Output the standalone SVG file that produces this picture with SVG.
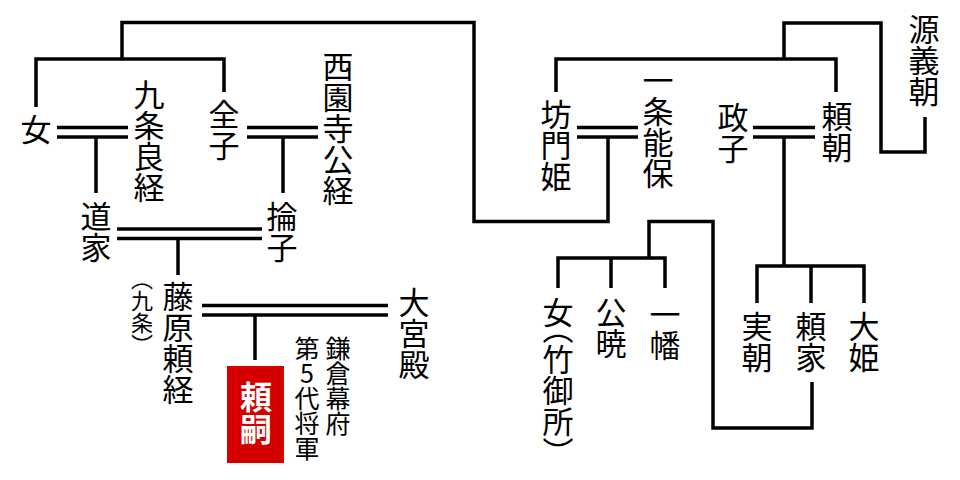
<svg xmlns="http://www.w3.org/2000/svg" width="960" height="480" viewBox="0 0 960 480">
<style>
.t{font-family:"Noto Sans CJK JP","Noto Sans CJK SC",sans-serif;font-size:31px;fill:#000;writing-mode:vertical-rl;text-orientation:upright;font-feature-settings:"vhal" 1;}
.s{font-size:25px;}
.p{font-size:22px;}
.b{font-weight:bold;fill:#fff;font-size:32px;}
.ln{fill:none;stroke:#000;stroke-width:3.5;stroke-linejoin:miter;stroke-linecap:butt;}
</style>
<rect width="960" height="480" fill="#fff"/>
<g id="connectors" class="ln">
  <polyline points="122,59 122,22.5 474,22.5 474,221.5 608,221.5 608,137"/>
  <polyline points="36,107 36,59 224,59 224,92"/>
  <line x1="57" y1="127.5" x2="128" y2="127.5"/><line x1="57" y1="137" x2="128" y2="137"/>
  <line x1="96" y1="137" x2="96" y2="193"/>
  <line x1="247" y1="127.5" x2="318" y2="127.5"/><line x1="247" y1="137" x2="318" y2="137"/>
  <line x1="283" y1="137" x2="283" y2="193"/>
  <line x1="117" y1="229" x2="262" y2="229"/><line x1="117" y1="238.5" x2="262" y2="238.5"/>
  <line x1="178" y1="238.5" x2="178" y2="275"/>
  <line x1="202" y1="305.5" x2="388" y2="305.5"/><line x1="202" y1="315" x2="388" y2="315"/>
  <line x1="255" y1="315" x2="255" y2="360"/>
  <line x1="577" y1="127.5" x2="638" y2="127.5"/><line x1="577" y1="137" x2="638" y2="137"/>
  <polyline points="556,92 556,59 836,59 836,92"/>
  <polyline points="784,59 784,23 881,23 881,152 925,152 925,117"/>
  <line x1="753" y1="127.5" x2="815" y2="127.5"/><line x1="753" y1="137" x2="815" y2="137"/>
  <line x1="784" y1="137" x2="784" y2="266"/>
  <polyline points="757,303 757,266 864,266 864,303"/>
  <line x1="811" y1="266" x2="811" y2="303"/>
  <polyline points="812,382 812,428 713,428 713,221.5 649,221.5 649,258"/>
  <polyline points="558,288 558,258 665,258 665,288"/>
  <line x1="611" y1="258" x2="611" y2="288"/>
</g>
<g id="onna1"><text class="t" x="36" y="114">女</text></g>
<g id="kujo-yoshitsune"><text class="t" x="149" y="79">九条良経</text></g>
<g id="zenshi"><text class="t" x="224" y="99">全子</text></g>
<g id="saionji-kintsune"><text class="t" x="338" y="51">西園寺公経</text></g>
<g id="michiie"><text class="t" x="96" y="201">道家</text></g>
<g id="rinshi"><text class="t" x="282" y="201">掄子</text></g>
<g id="fujiwara-yoritsune"><text class="t" x="178" y="281">藤原頼経</text><text class="t p" x="142" y="279">（九条）</text></g>
<g id="omiyadono"><text class="t" x="414" y="287">大宮殿</text></g>
<g id="yoritsugu"><rect x="227" y="366" width="57" height="97" fill="#d40000"/><text class="t b" x="256" y="381">頼嗣</text><text class="t s" x="338" y="336">鎌倉幕府</text><text class="t s" x="307" y="336">第5代将軍</text></g>
<g id="bomonhime"><text class="t" x="556" y="99">坊門姫</text></g>
<g id="ichijo-yoshiyasu"><text class="t" x="658" y="65">一条能保</text></g>
<g id="masako"><text class="t" x="733" y="102">政子</text></g>
<g id="yoritomo"><text class="t" x="837" y="101">頼朝</text></g>
<g id="minamoto-yoshitomo"><text class="t" x="924" y="14">源義朝</text></g>
<g id="takenogosho"><text class="t" x="558" y="297">女（竹御所）</text></g>
<g id="kugyo"><text class="t" x="611" y="297">公暁</text></g>
<g id="ichiman"><text class="t" x="665" y="299">一幡</text></g>
<g id="sanetomo"><text class="t" x="757" y="311">実朝</text></g>
<g id="yoriie"><text class="t" x="811" y="311">頼家</text></g>
<g id="ohime"><text class="t" x="864" y="311">大姫</text></g>
</svg>
